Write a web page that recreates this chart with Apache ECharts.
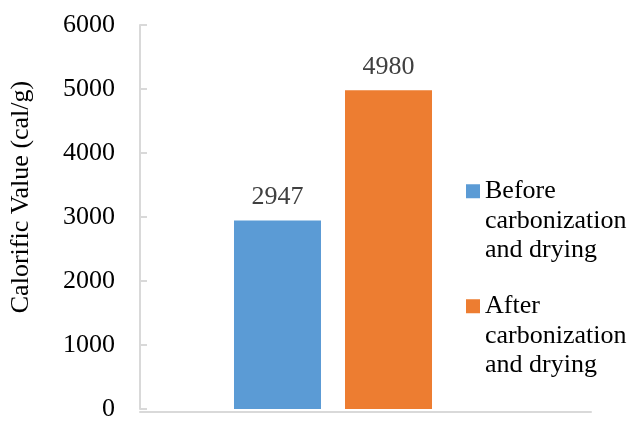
<!DOCTYPE html>
<html>
<head>
<meta charset="utf-8">
<script src="https://cdn.jsdelivr.net/npm/echarts@6/dist/echarts.min.js"></script>
<style>
  html, body { margin: 0; padding: 0; background: #ffffff; }
  #chart { width: 634px; height: 422px; }
</style>
</head>
<body>
<div id="chart"></div>
<script>
// Calorific value of the fuel before and after carbonization/drying
const categories = [''];
const seriesNames = [
  'Before\ncarbonization\nand drying',
  'After\ncarbonization\nand drying'
];
const beforeValues = [2947];
const afterValues = [4980];
const yTicks = { min: 0, max: 6000, interval: 1000 };
const yTitle = 'Calorific Value (cal/g)';

const FONT = '"Liberation Serif", "Times New Roman", serif';
const FONT_SIZE = 26;
const AXIS_GRAY = '#d9d9d9';
const LINE_H = 29.5;

const chart = echarts.init(document.getElementById('chart'), null, { renderer: 'canvas' });

chart.setOption({
  animation: false,
  backgroundColor: '#ffffff',
  grid: [
    { left: 140, right: 108, top: 25, bottom: 10 },
    { left: 140, right: 43, top: 25, bottom: 10 }
  ],
  xAxis: [
    {
      type: 'category',
      gridIndex: 0,
      data: categories,
      axisLine: { show: false },
      axisTick: { show: false },
      axisLabel: { show: false }
    },
    {
      type: 'category',
      gridIndex: 1,
      data: categories,
      axisLine: { show: true, lineStyle: { color: AXIS_GRAY, width: 2 } },
      axisTick: { show: false },
      axisLabel: { show: false }
    }
  ],
  yAxis: [
    {
      type: 'value',
      gridIndex: 0,
      min: yTicks.min,
      max: yTicks.max,
      interval: yTicks.interval,
      name: yTitle,
      nameLocation: 'middle',
      nameGap: 106,
      nameTextStyle: {
        fontFamily: FONT,
        fontSize: FONT_SIZE,
        color: '#000000',
        padding: [0, 0, 0, 40]
      },
      axisLine: { show: true, lineStyle: { color: AXIS_GRAY, width: 2 } },
      axisTick: { show: true, inside: true, length: 7, lineStyle: { color: AXIS_GRAY, width: 2 } },
      axisLabel: {
        margin: 25,
        fontFamily: FONT,
        fontSize: FONT_SIZE,
        color: '#000000',
        formatter: (v) => String(v)
      },
      splitLine: { show: false }
    },
    {
      type: 'value',
      gridIndex: 1,
      min: yTicks.min,
      max: yTicks.max,
      show: false
    }
  ],
  legend: {
    orient: 'vertical',
    left: 466,
    top: 117.5,
    padding: 0,
    itemWidth: 14,
    itemHeight: 14,
    itemGap: 115 - LINE_H * 5,
    icon: 'rect',
    data: seriesNames,
    // two leading blank lines keep the swatch level with the first line of each name
    formatter: (name) => '\n\n' + name,
    textStyle: {
      fontFamily: FONT,
      fontSize: FONT_SIZE,
      color: '#000000',
      lineHeight: LINE_H
    }
  },
  series: [
    {
      name: seriesNames[0],
      type: 'bar',
      xAxisIndex: 0,
      yAxisIndex: 0,
      data: beforeValues,
      barWidth: 87,
      barGap: '27.6%',
      itemStyle: { color: '#5B9BD5' },
      label: {
        show: true,
        position: 'top',
        distance: 10,
        fontFamily: FONT,
        fontSize: FONT_SIZE,
        color: '#404040'
      }
    },
    {
      name: seriesNames[1],
      type: 'bar',
      xAxisIndex: 0,
      yAxisIndex: 0,
      data: afterValues,
      barWidth: 87,
      barGap: '27.6%',
      itemStyle: { color: '#ED7D31' },
      label: {
        show: true,
        position: 'top',
        distance: 10,
        fontFamily: FONT,
        fontSize: FONT_SIZE,
        color: '#404040'
      }
    }
  ]
});
</script>
</body>
</html>
